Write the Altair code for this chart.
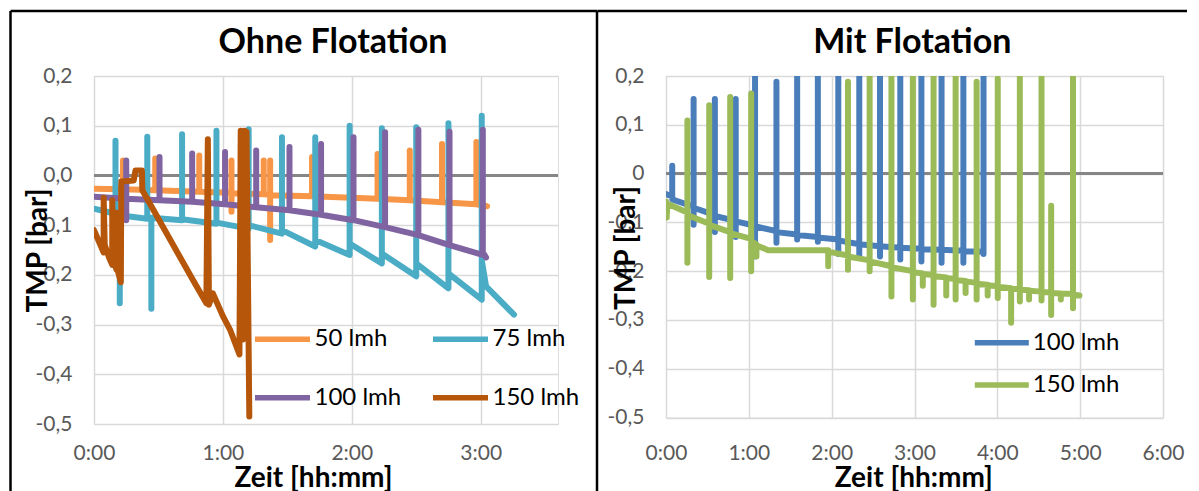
import altair as alt
import pandas as pd

FONT = "Lato"

# ---------------- data (time in minutes, TMP in bar) ----------------
PANEL_TITLES = ["Ohne Flotation", "Mit Flotation"]
LEFT_NAMES = ["50 lmh", "75 lmh", "100 lmh", "150 lmh"]
LEFT_COLORS = ["#F79646", "#4BACC6", "#8064A2", "#B5560A"]
# legend is laid out column by column, so list it as 50, 100 | 75, 150
LEFT_LEGEND_ORDER = ["50 lmh", "100 lmh", "75 lmh", "150 lmh"]
RIGHT_NAMES = ["100 lmh", "150 lmh"]
RIGHT_COLORS = ["#4A7EBB", "#9BBB59"]

X_TICKS_LEFT = [0, 60, 120, 180]
X_TICKS_RIGHT = [0, 60, 120, 180, 240, 300, 360]
Y_TICKS = [-0.5, -0.4, -0.3, -0.2, -0.1, 0.0, 0.1, 0.2]

# spike rows: (time, value before, peak, trough, value after)
L50_START = [(0, -0.027)]
L50_ROWS = [
    (13.5, -0.028, 0.030, None, -0.028),
    (28.5, -0.030, 0.034, None, -0.030),
    (49.0, -0.033, 0.040, None, -0.033),
    (64.0, -0.035, 0.030, -0.073, -0.036),
    (79.0, -0.038, 0.030, None, -0.038),
    (82.0, -0.039, 0.030, -0.130, -0.040),
    (101.5, -0.042, 0.037, None, -0.042),
    (132.0, -0.047, 0.043, None, -0.047),
    (147.0, -0.050, 0.050, None, -0.050),
    (162.0, -0.054, 0.063, None, -0.054),
    (178.0, -0.058, 0.067, None, -0.058),
]
L50_END = [(183.0, -0.062)]

L75_START = [(0, -0.067), (8, -0.075)]
L75_ROWS = [
    (10.0, -0.078, 0.070, None, -0.085),
    (12.0, -0.085, None, -0.257, -0.080),
    (24.8, -0.087, 0.078, None, -0.085),
    (26.7, -0.085, None, -0.268, -0.085),
    (41.0, -0.090, 0.083, None, -0.088),
    (57.0, -0.097, 0.090, None, -0.095),
    (72.0, -0.107, 0.093, None, -0.100),
    (87.5, -0.117, 0.077, None, -0.110),
    (103.0, -0.143, 0.077, None, -0.130),
    (119.0, -0.160, 0.100, None, -0.137),
    (134.0, -0.177, 0.095, None, -0.157),
    (150.0, -0.203, 0.097, None, -0.177),
    (165.0, -0.227, 0.105, None, -0.197),
    (180.5, -0.250, 0.120, None, -0.170),
]
L75_END = [(182.5, -0.223), (195.5, -0.280)]

L100_START = [(0, -0.043)]
L100_ROWS = [
    (15.0, -0.047, 0.030, -0.090, -0.047),
    (30.5, -0.050, 0.037, None, -0.050),
    (45.7, -0.053, 0.044, None, -0.053),
    (61.0, -0.058, 0.047, None, -0.058),
    (75.5, -0.064, 0.050, None, -0.064),
    (91.0, -0.070, 0.057, None, -0.070),
    (105.7, -0.079, 0.063, None, -0.079),
    (120.8, -0.090, 0.077, None, -0.090),
    (135.5, -0.104, 0.087, None, -0.104),
    (151.0, -0.120, 0.092, None, -0.120),
    (165.5, -0.140, 0.088, None, -0.140),
    (181.0, -0.160, 0.092, None, -0.155),
]
L100_END = [(182.5, -0.165)]

L150_T = [0, 2, 4.5, 4.5, 5, 7, 8.5, 8.5, 9, 10.5, 10.5, 11, 12.5, 12.7, 18.5, 19.3,
          22.3, 22.5, 46, 52.3, 53, 53.5, 55.3, 60, 63.3, 67.7, 68.3, 69.3, 70, 71, 72.3]
L150_V = [-0.110, -0.130, -0.155, -0.045, -0.140, -0.165, -0.180, -0.050, -0.170, -0.190,
          -0.075, -0.190, -0.215, -0.012, -0.010, 0.010, 0.010, -0.030, -0.210, -0.257,
          0.073, -0.260, -0.237, -0.283, -0.310, -0.360, 0.090, -0.330, 0.090, 0.088, -0.485]

R100_START = [(0, -0.042)]
R100_ROWS = [
    (4.5, -0.047, 0.016, None, -0.053),
    (20.0, -0.068, 0.153, -0.105, -0.070),
    (35.4, -0.085, 0.153, -0.120, -0.087),
    (50.5, -0.097, 0.153, -0.130, -0.098),
    (64.5, -0.107, 0.300, -0.170, -0.108),
    (80.0, -0.118, 0.188, -0.142, -0.120),
    (95.0, -0.125, 0.300, -0.135, -0.126),
    (110.0, -0.130, 0.198, -0.140, -0.131),
    (124.8, -0.135, 0.300, -0.165, -0.137),
    (140.0, -0.145, 0.300, -0.170, -0.145),
    (155.0, -0.149, 0.300, -0.170, -0.149),
    (169.7, -0.152, 0.300, -0.176, -0.152),
    (185.0, -0.154, 0.300, -0.180, -0.155),
    (199.6, -0.156, 0.300, -0.183, -0.156),
    (215.4, -0.158, 0.300, -0.183, -0.159),
    (230.0, -0.160, 0.300, None, -0.165),
]
R100_END = []

R150_START = [(0, -0.057), (0.5, -0.090), (1.0, -0.062)]
R150_ROWS = [
    (15.5, -0.080, 0.109, -0.183, -0.085),
    (31.3, -0.103, 0.140, -0.212, -0.105),
    (46.5, -0.120, 0.157, -0.214, -0.122),
    (61.7, -0.134, 0.164, -0.200, -0.138),
    (65.5, -0.145, None, -0.170, -0.147),
    (74.0, -0.157, None, None, -0.157),
    (117.5, -0.157, None, -0.190, -0.160),
    (131.8, -0.168, 0.188, -0.197, -0.170),
    (147.5, -0.178, 0.300, -0.200, -0.180),
    (163.3, -0.190, 0.300, -0.252, -0.192),
    (178.8, -0.200, 0.300, -0.258, -0.202),
    (186.0, -0.205, None, -0.230, -0.206),
    (193.8, -0.208, 0.300, -0.269, -0.210),
    (203.0, -0.213, None, -0.250, -0.214),
    (209.8, -0.216, 0.300, -0.258, -0.218),
    (217.0, -0.220, None, -0.245, -0.221),
    (225.0, -0.224, 0.188, -0.258, -0.226),
    (233.0, -0.228, None, -0.250, -0.229),
    (240.3, -0.231, 0.195, -0.255, -0.232),
    (250.0, -0.235, None, -0.306, -0.236),
    (256.3, -0.237, 0.197, -0.262, -0.238),
    (263.0, -0.239, None, -0.258, -0.240),
    (272.0, -0.242, 0.197, -0.260, -0.243),
    (279.0, -0.244, -0.066, -0.290, -0.245),
    (286.0, -0.246, None, -0.258, -0.246),
    (294.8, -0.247, 0.300, -0.276, -0.248),
]
R150_END = [(299.5, -0.250)]


def build(start, rows, end):
    pts = list(start)
    for t, before, peak, trough, after in rows:
        pts.append((t, before))
        if peak is not None:
            pts.append((t, peak))
        if trough is not None:
            pts.append((t, trough))
        pts.append((t, after))
    pts += list(end)
    return pts


def frame(name, pts):
    return pd.DataFrame({"series": name, "t": [p[0] for p in pts],
                         "v": [p[1] for p in pts], "i": range(len(pts))})


left_df = pd.concat([
    frame("50 lmh", build(L50_START, L50_ROWS, L50_END)),
    frame("75 lmh", build(L75_START, L75_ROWS, L75_END)),
    frame("100 lmh", build(L100_START, L100_ROWS, L100_END)),
    frame("150 lmh", list(zip(L150_T, L150_V))),
], ignore_index=True)

right_df = pd.concat([
    frame("100 lmh", build(R100_START, R100_ROWS, R100_END)),
    frame("150 lmh", build(R150_START, R150_ROWS, R150_END)),
], ignore_index=True)

# ---------------- styling ----------------
GRID = "#D9D9D9"
LABEL_C = "#595959"
LINE_W = 6
TIME_EXPR = "floor(datum.value/60) + ':' + (datum.value % 60 < 10 ? '0' : '') + (datum.value % 60)"
Y_EXPR_L = "(datum.value < -1e-9 ? '-' : '') + replace(format(abs(datum.value), '.1f'), '.', ',')"
Y_EXPR_R = "abs(datum.value) < 1e-9 ? '0' : (datum.value < -1e-9 ? '-' : '') + replace(format(abs(datum.value), '.1f'), '.', ',')"

LW, LH = 464, 348     # left plot area
RW, RH = 497, 341.5   # right plot area


def x_enc(domain_max, ticks, label_pad, title_x, title_y):
    return alt.X("t:Q", scale=alt.Scale(domain=[0, domain_max], nice=False, zero=False),
                 axis=alt.Axis(values=ticks, labelExpr=TIME_EXPR, title="Zeit [hh:mm]",
                               grid=True, gridColor=GRID, gridWidth=1.5, domain=False,
                               ticks=False, tickSize=0, labelPadding=label_pad,
                               labelFlush=False, labelOverlap=False,
                               labelFont=FONT, labelFontSize=21, labelColor=LABEL_C,
                               labelBaseline="top",
                               titleFont=FONT, titleFontSize=28, titleFontWeight="bold",
                               titleColor="black", titleX=title_x, titleY=title_y,
                               titleBaseline="alphabetic", titleAlign="center"))


def y_enc(expr, title_x, title_y):
    return alt.Y("v:Q", scale=alt.Scale(domain=[-0.5, 0.2], nice=False, zero=False),
                 axis=alt.Axis(values=Y_TICKS, labelExpr=expr, title="TMP [bar]",
                               grid=True, gridColor=GRID, gridWidth=1.5, domain=False,
                               ticks=False, tickSize=0, labelPadding=22,
                               labelFlush=False, labelOverlap=False,
                               labelFont=FONT, labelFontSize=21, labelColor=LABEL_C,
                               titleFont=FONT, titleFontSize=28, titleFontWeight="bold",
                               titleColor="black", titleX=title_x, titleY=title_y,
                               titleAngle=270, titleBaseline="alphabetic",
                               titleAlign="center"))


def panel(df, names, legend_order, colors, X, Y, legend, title, title_x, frame_rules, w, h):
    col_map = dict(zip(names, colors))
    color = alt.Color("series:N",
                      scale=alt.Scale(domain=legend_order,
                                      range=[col_map[n] for n in legend_order]),
                      legend=legend)
    zero = alt.Chart(df).mark_rule(color="#868686", strokeWidth=3).encode(y=alt.datum(0))
    layers = [zero]
    for n in names:
        layers.append(
            alt.Chart(df).transform_filter(alt.datum.series == n)
            .mark_line(strokeWidth=LINE_W, strokeCap="round", strokeJoin="round", clip=True)
            .encode(x=X, y=Y, color=color, order=alt.Order("i:Q"))
        )
    ttl = alt.Chart(pd.DataFrame({"label": [title]})).mark_text(
        font=FONT, fontSize=34, fontWeight="bold", color="black",
        align="center", baseline="alphabetic").encode(
        text="label:N", x=alt.value(title_x), y=alt.value(-23))
    layers.append(ttl)
    for (x1, x2, y1, y2) in frame_rules:
        layers.append(alt.Chart(pd.DataFrame({"k": [0]})).mark_rule(
            color="black", strokeWidth=2.5).encode(
            x=alt.value(x1), x2=alt.value(x2), y=alt.value(y1), y2=alt.value(y2)))
    return alt.layer(*layers).properties(width=w, height=h)


leg_l = alt.Legend(orient="none", legendX=158, legendY=248.3, columns=2, title=None,
                   symbolType="stroke", symbolSize=3025, symbolStrokeWidth=5.5,
                   clipHeight=30, rowPadding=28.5, columnPadding=28, labelOffset=1.5,
                   labelFont=FONT, labelFontSize=24, labelColor="black", padding=0)
leg_r = alt.Legend(orient="none", legendX=305.8, legendY=251.7, columns=1, title=None,
                   symbolType="stroke", symbolSize=2916, symbolStrokeWidth=5.5,
                   clipHeight=30, rowPadding=12.3, labelOffset=1,
                   labelFont=FONT, labelFontSize=24, labelColor="black", padding=0)

left = panel(left_df, LEFT_NAMES, LEFT_LEGEND_ORDER, LEFT_COLORS,
             x_enc(216, X_TICKS_LEFT, 18, 219, 62),
             y_enc(Y_EXPR_L, -48, 174),
             leg_l, PANEL_TITLES[0], 239,
             [(-83.5, 503, -65, -65), (-83.5, -83.5, -65, 415), (503, 503, -65, 415)],
             LW, LH)

right = panel(right_df, RIGHT_NAMES, RIGHT_NAMES, RIGHT_COLORS,
              x_enc(360, X_TICKS_RIGHT, 24.5, 247.3, 68.5),
              y_enc(Y_EXPR_R, -32, 171.5),
              leg_r, PANEL_TITLES[1], 246.3,
              [(-68.7, 521, -65, -65)],
              RW, RH)

chart = alt.hconcat(left, right, spacing=108, bounds="flush",
                    padding={"left": 0, "top": 1, "right": 0, "bottom": 0}) \
    .resolve_scale(x="independent", y="independent", color="independent") \
    .resolve_legend(color="independent") \
    .configure_view(stroke=None) \
    .configure(background="white")

chart.save("out.html", embed_options={"renderer": "svg", "actions": False})
